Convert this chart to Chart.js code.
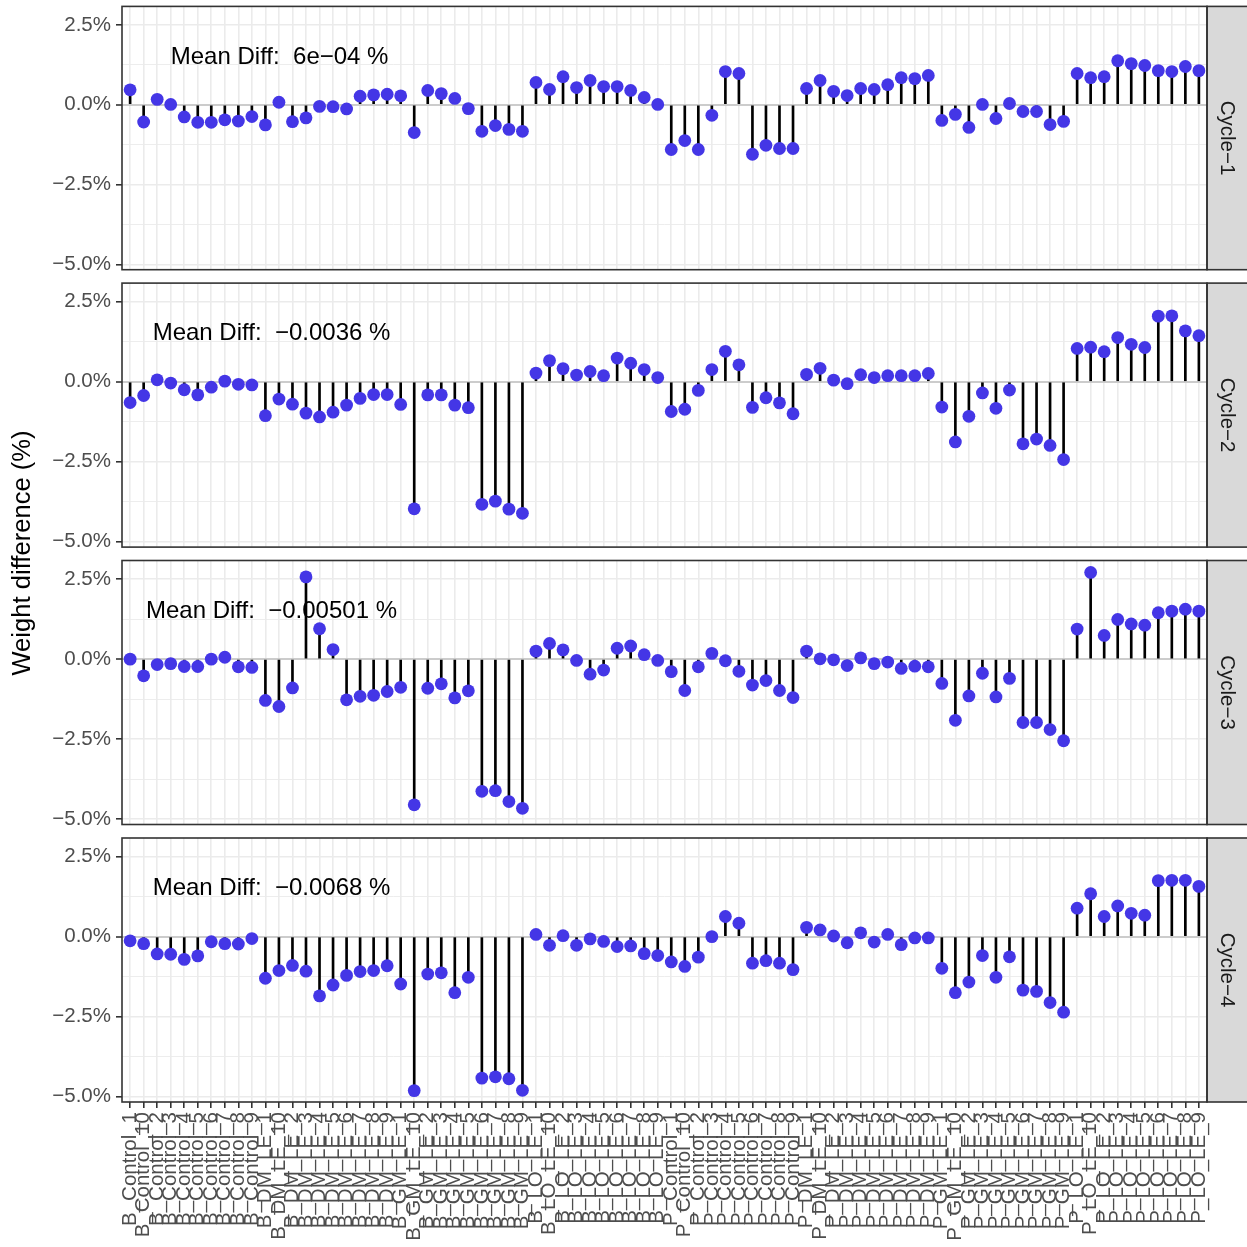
<!DOCTYPE html>
<html>
<head>
<meta charset="utf-8">
<title>Weight difference by cycle</title>
<script src="https://cdn.jsdelivr.net/npm/chart.js@4.4.1/dist/chart.umd.min.js"></script>
<style>
  html, body { margin: 0; padding: 0; background: #fff; }
  #wrap { position: relative; width: 1247px; height: 1247px; overflow: hidden; }
  #wrap canvas { position: absolute; left: 0; top: 0; }
</style>
</head>
<body>
<div id="wrap"></div>
<script>
// sample names, in sorted text order (1, 10, 2 ... 9)
const groups = ['B_Control', 'B_DM_LE', 'B_GM_LE', 'B_LO_LE', 'P_Control', 'P_DM_LE', 'P_GM_LE', 'P_LO_LE'];
const reps = ['1', '10', '2', '3', '4', '5', '6', '7', '8', '9'];
const samples = groups.flatMap(g => reps.map(r => g + '_' + r));

// weight difference (%) per sample, one array per cycle
const cycle1 = [0.47, -0.54, 0.17, 0.01, -0.38, -0.55, -0.55, -0.47, -0.51, -0.37,
  -0.63, 0.08, -0.53, -0.41, -0.05, -0.06, -0.13, 0.27, 0.31, 0.33,
  0.28, -0.87, 0.45, 0.35, 0.2, -0.12, -0.83, -0.65, -0.77, -0.83,
  0.7, 0.48, 0.88, 0.54, 0.76, 0.57, 0.57, 0.45, 0.23, 0.01,
  -1.4, -1.12, -1.4, -0.33, 1.04, 0.98, -1.55, -1.27, -1.37, -1.37,
  0.51, 0.76, 0.42, 0.29, 0.51, 0.48, 0.63, 0.85, 0.82, 0.92,
  -0.49, -0.3, -0.71, 0.01, -0.43, 0.04, -0.21, -0.21, -0.62, -0.52,
  0.98, 0.85, 0.88, 1.38, 1.29, 1.23, 1.07, 1.04, 1.2, 1.07];
const cycle2 = [-0.65, -0.43, 0.06, -0.04, -0.25, -0.41, -0.17, 0.02, -0.08, -0.10,
  -1.06, -0.54, -0.70, -0.98, -1.10, -0.95, -0.73, -0.52, -0.40, -0.40,
  -0.71, -3.97, -0.41, -0.41, -0.73, -0.81, -3.83, -3.73, -3.98, -4.11,
  0.27, 0.66, 0.41, 0.21, 0.32, 0.19, 0.74, 0.58, 0.38, 0.13,
  -0.93, -0.86, -0.27, 0.38, 0.95, 0.53, -0.80, -0.50, -0.66, -1.00,
  0.23, 0.42, 0.05, -0.06, 0.22, 0.13, 0.19, 0.19, 0.19, 0.26,
  -0.79, -1.88, -1.08, -0.35, -0.83, -0.26, -1.94, -1.79, -1.99, -2.43,
  1.04, 1.08, 0.94, 1.38, 1.17, 1.07, 2.05, 2.06, 1.59, 1.44];
const cycle3 = [0.0, -0.52, -0.17, -0.14, -0.23, -0.23, 0.0, 0.06, -0.24, -0.26,
  -1.29, -1.48, -0.90, 2.57, 0.95, 0.30, -1.27, -1.16, -1.13, -1.01,
  -0.88, -4.55, -0.91, -0.77, -1.21, -0.99, -4.13, -4.11, -4.45, -4.66,
  0.25, 0.49, 0.29, -0.04, -0.47, -0.34, 0.34, 0.41, 0.14, -0.04,
  -0.39, -0.98, -0.24, 0.18, -0.05, -0.38, -0.81, -0.67, -0.98, -1.20,
  0.25, 0.01, -0.02, -0.20, 0.04, -0.14, -0.09, -0.29, -0.22, -0.24,
  -0.76, -1.91, -1.15, -0.44, -1.18, -0.60, -1.98, -1.98, -2.20, -2.55,
  0.94, 2.71, 0.74, 1.24, 1.10, 1.06, 1.45, 1.50, 1.56, 1.50];
const cycle4 = [-0.13, -0.22, -0.54, -0.55, -0.71, -0.60, -0.16, -0.22, -0.23, -0.06,
  -1.30, -1.06, -0.90, -1.08, -1.85, -1.51, -1.21, -1.09, -1.06, -0.91,
  -1.48, -4.81, -1.17, -1.13, -1.75, -1.27, -4.42, -4.38, -4.44, -4.80,
  0.07, -0.27, 0.03, -0.27, -0.07, -0.15, -0.31, -0.29, -0.53, -0.59,
  -0.79, -0.93, -0.64, 0.0, 0.63, 0.42, -0.83, -0.75, -0.83, -1.03,
  0.29, 0.21, 0.02, -0.19, 0.12, -0.17, 0.07, -0.25, -0.04, -0.04,
  -0.99, -1.75, -1.42, -0.59, -1.27, -0.63, -1.67, -1.71, -2.06, -2.36,
  0.89, 1.34, 0.63, 0.96, 0.73, 0.67, 1.75, 1.76, 1.76, 1.57];

const cycles = [cycle1, cycle2, cycle3, cycle4];
const cycleNames = ['Cycle\u22121', 'Cycle\u22122', 'Cycle\u22123', 'Cycle\u22124'];
const meanDiff = ['6e\u221204', '\u22120.0036', '\u22120.00501', '\u22120.0068'];
const yTicks = [-5, -3.75, -2.5, -1.25, 0, 1.25, 2.5];

// layout
const W = 1247;
const plotLeft = 122, plotRight = 1207;
const panelTop = [5.7, 283.1, 560.5, 838];
const panelH = 264;
const yMin = -5.166, yMax = 3.082;
const noteX = [11.05, 10.45, 10.45, 10.45];
const noteY = 1.5;
const FONT = '"Liberation Sans", Arial, Helvetica, sans-serif';
const dotColor = '#4436E6';

Chart.defaults.font.family = FONT;

const isMajor = v => Math.abs(v / 2.5 - Math.round(v / 2.5)) < 1e-9;
const pct = v => (v < 0 ? '\u2212' : '') + Math.abs(v).toFixed(1) + '%';

const facetFrame = {
  id: 'facetFrame',
  afterDatasetsDraw(chart, args, opts) {
    const { ctx, scales } = chart;
    ctx.save();
    ctx.fillStyle = '#000';
    ctx.font = '24px ' + FONT;
    ctx.textAlign = 'center';
    ctx.textBaseline = 'middle';
    ctx.fillText('Mean Diff:  ' + meanDiff[opts.k] + ' %',
      scales.x.getPixelForValue(noteX[opts.k]), scales.y.getPixelForValue(noteY));
    ctx.restore();
  },
  afterDraw(chart, args, opts) {
    const { ctx, chartArea: a } = chart;
    ctx.save();
    // strip on the right
    ctx.fillStyle = '#D9D9D9';
    ctx.fillRect(a.right, a.top, W - a.right + 5, a.height);
    ctx.strokeStyle = '#333333';
    ctx.lineWidth = 1.6;
    ctx.strokeRect(a.right, a.top, W - a.right + 5, a.height);
    ctx.strokeRect(a.left, a.top, a.width, a.height);
    ctx.translate(a.right + 19.5, (a.top + a.bottom) / 2);
    ctx.rotate(Math.PI / 2);
    ctx.fillStyle = '#1A1A1A';
    ctx.font = '20.5px ' + FONT;
    ctx.textAlign = 'center';
    ctx.textBaseline = 'middle';
    ctx.fillText(cycleNames[opts.k], 0, 0);
    ctx.restore();
    if (opts.last) {
      ctx.save();
      ctx.translate(23, 553);
      ctx.rotate(-Math.PI / 2);
      ctx.fillStyle = '#000';
      ctx.font = '25.6px ' + FONT;
      ctx.textAlign = 'center';
      ctx.textBaseline = 'middle';
      ctx.fillText('Weight difference (%)', 0, 0);
      ctx.restore();
    }
  }
};

const wrap = document.getElementById('wrap');

function makePanel(k) {
  const canvas = document.createElement('canvas');
  canvas.width = W;
  canvas.height = W;
  wrap.appendChild(canvas);
  const last = k === cycles.length - 1;
  const top = panelTop[k];
  const bottom = top + panelH;
  const pts = cycles[k].map((v, i) => ({ x: i, y: v }));

  return new Chart(canvas, {
    type: 'bar',
    data: {
      datasets: [
        { type: 'bar', data: pts, backgroundColor: '#000', barThickness: 2, order: 2 },
        { type: 'line', data: pts, showLine: false, pointRadius: 6.4, pointHoverRadius: 6.4,
          pointBackgroundColor: dotColor, pointBorderWidth: 0, order: 1 }
      ]
    },
    options: {
      responsive: false,
      animation: false,
      devicePixelRatio: 1,
      layout: { padding: { left: 0, right: W - plotRight, top: top, bottom: last ? 0 : W - bottom } },
      plugins: {
        legend: { display: false },
        tooltip: { enabled: false },
        facetFrame: { k: k, last: last }
      },
      scales: {
        x: {
          type: 'linear',
          offset: false,
          min: -0.6,
          max: samples.length - 0.4,
          afterBuildTicks: s => { s.ticks = samples.map((_, i) => ({ value: i })); },
          afterFit: s => { s.height = last ? W - bottom : 0; s.paddingLeft = 0; s.paddingRight = 0; },
          border: { display: false },
          grid: { offset: false, color: '#EBEBEB', lineWidth: 1.6, drawTicks: last, tickLength: 6, tickColor: '#333333', tickWidth: 1.6 },
          ticks: {
            display: last, autoSkip: false, maxRotation: 90, minRotation: 90, padding: 4,
            color: '#4D4D4D', font: { size: 20.5 },
            callback: v => samples[v]
          }
        },
        y: {
          min: yMin,
          max: yMax,
          afterBuildTicks: s => { s.ticks = yTicks.map(v => ({ value: v })); },
          afterFit: s => { s.width = plotLeft; s.paddingTop = 0; s.paddingBottom = 0; },
          border: { display: false },
          grid: {
            color: c => (c.tick && c.tick.value === 0) ? '#CCCCCC' : '#EBEBEB',
            lineWidth: c => (c.tick && c.tick.value === 0) ? 2 : (c.tick && isMajor(c.tick.value) ? 1.6 : 0.9),
            tickLength: 6,
            tickColor: c => (c.tick && isMajor(c.tick.value)) ? '#333333' : 'rgba(0,0,0,0)',
            tickWidth: 1.6
          },
          ticks: {
            color: '#4D4D4D', font: { size: 20.5 }, padding: 5,
            callback: v => isMajor(v) ? pct(v) : ''
          }
        }
      }
    },
    plugins: [facetFrame]
  });
}

cycles.forEach((_, k) => makePanel(k));
</script>
</body>
</html>
